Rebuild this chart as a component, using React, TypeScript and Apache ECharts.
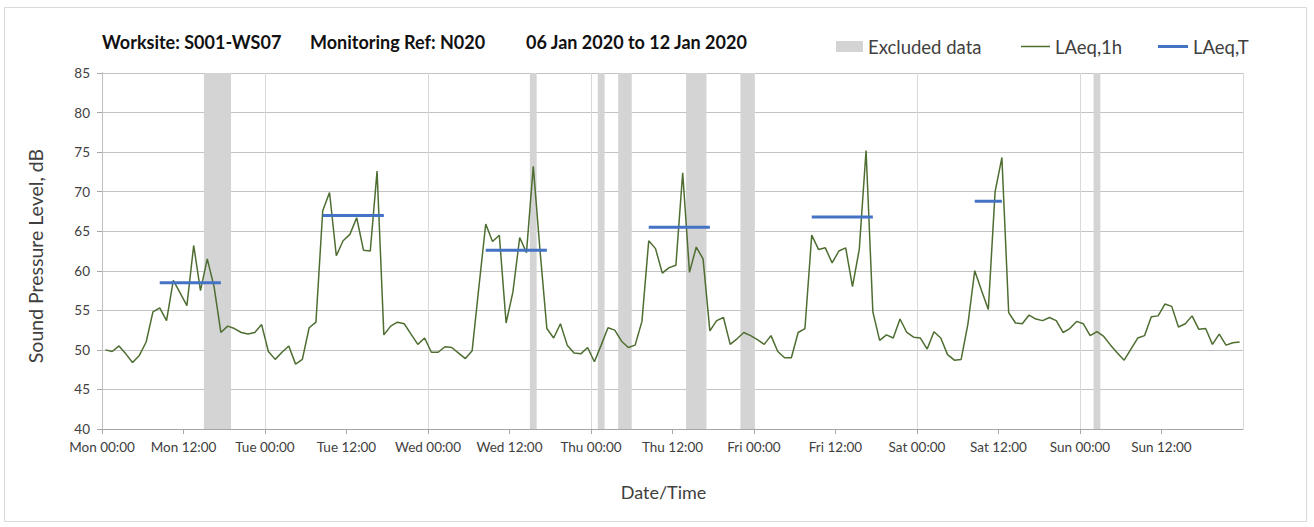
import React, { useEffect, useRef } from "react";
import * as echarts from "echarts";

// ---------- data ----------
const dayNames = ["Mon", "Tue", "Wed", "Thu", "Fri", "Sat", "Sun"];
const tickTimes = ["00:00", "12:00"];

const titleParts = [
  "Worksite: S001-WS07",
  "Monitoring Ref: N020",
  "06 Jan 2020 to 12 Jan 2020",
];

// Hourly LAeq,1h values, Mon 00:00 -> Sun 23:00 (plotted at mid-hour)
const laeq1h = [
  50.0, 49.8, 50.5, 49.5, 48.4, 49.3, 51.0, 54.8, 55.3, 53.7, 58.8, 57.2,
  55.6, 63.2, 57.5, 61.5, 58.0, 52.2, 53.0, 52.7, 52.2, 52.0, 52.2, 53.2,
  49.8, 48.8, 49.7, 50.5, 48.2, 48.8, 52.8, 53.5, 67.6, 69.9, 61.9, 63.8,
  64.6, 66.7, 62.6, 62.5, 72.6, 51.9, 53.0, 53.5, 53.3, 52.0, 50.7, 51.5,
  49.7, 49.7, 50.4, 50.3, 49.6, 48.9, 49.9, 58.0, 65.9, 63.7, 64.5, 53.4,
  57.3, 64.2, 62.3, 73.2, 62.5, 52.7, 51.5, 53.3, 50.6, 49.6, 49.5, 50.3,
  48.5, 50.6, 52.8, 52.5, 51.1, 50.3, 50.6, 53.6, 63.8, 62.8, 59.7, 60.4,
  60.7, 72.4, 59.8, 63.0, 61.5, 52.4, 53.7, 54.1, 50.7, 51.4, 52.2, 51.8,
  51.3, 50.7, 51.8, 49.8, 49.0, 49.0, 52.2, 52.7, 64.5, 62.7, 62.9, 61.0,
  62.5, 62.9, 58.0, 62.7, 75.2, 54.8, 51.2, 51.9, 51.5, 53.9, 52.2, 51.6,
  51.5, 50.1, 52.3, 51.5, 49.4, 48.7, 48.8, 53.3, 60.0, 57.5, 55.1, 70.0,
  74.3, 54.7, 53.4, 53.3, 54.4, 53.9, 53.7, 54.1, 53.7, 52.2, 52.7, 53.6,
  53.3, 51.8, 52.3, 51.7, 50.6, 49.6, 48.7, 50.1, 51.5, 51.8, 54.2, 54.3,
  55.8, 55.5, 52.9, 53.3, 54.3, 52.6, 52.7, 50.7, 52.0, 50.6, 50.9, 51.0,
];

// Excluded data periods (hours from Mon 00:00)
const excludedStart = [15, 63, 73, 76, 86, 94, 146];
const excludedEnd = [19, 64, 74, 78, 89, 96, 147];

// LAeq,T periods (hours from Mon 00:00) and values
const laeqTStart = [8.5, 32.5, 56.5, 80.5, 104.5, 128.5];
const laeqTEnd = [17.5, 41.5, 65.5, 89.5, 113.5, 132.5];
const laeqTValue = [58.5, 67.0, 62.6, 65.5, 66.8, 68.8];

const yMin = 40;
const yMax = 85;
const xMax = 168;

// ---------- styles ----------
const FONT = "Lato";
const GREEN = "#4e6e31";
const BLUE = "#4472c4";
const GREY_BAND = "#d4d4d4";
const TEXT = "#404040";

export default function App() {
  const ref = useRef<HTMLDivElement>(null);

  useEffect(() => {
    if (!ref.current) return;
    const chart = echarts.init(ref.current, undefined, { renderer: "svg" });

    const lineData = laeq1h.map((v, i) => [i + 0.5, v]);
    const bandData = excludedStart.map((s, i) => [s, excludedEnd[i]]);

    const laeqTSeries = laeqTValue.map((v, i) => ({
      name: "LAeq,T",
      type: "line",
      xAxisIndex: 0,
      yAxisIndex: 0,
      symbol: "none",
      z: 4,
      lineStyle: { color: BLUE, width: 3 },
      itemStyle: { color: BLUE },
      data: [
        [laeqTStart[i], v],
        [laeqTEnd[i], v],
      ],
    }));

    const titleLeft = [102, 310, 526];
    const legendText = { fontFamily: FONT, fontSize: 18.5, color: TEXT };

    const option: any = {
      animation: false,
      backgroundColor: "#ffffff",
      textStyle: { fontFamily: FONT },
      title: titleParts.map((t, i) => ({
        text: t,
        left: titleLeft[i],
        top: 33,
        padding: 0,
        textStyle: {
          fontFamily: FONT,
          fontWeight: "bold",
          fontSize: 18,
          color: "#111111",
        },
      })),
      legend: [
        {
          data: [{ name: "Excluded data", icon: "rect", itemStyle: { color: GREY_BAND } }],
          left: 836,
          top: 37,
          padding: 0,
          itemWidth: 27,
          itemHeight: 11,
          textStyle: legendText,
          selectedMode: false,
        },
        {
          data: [{ name: "LAeq,1h", icon: "rect", itemStyle: { color: GREEN } }],
          left: 1021,
          top: 37,
          padding: 0,
          itemWidth: 29,
          itemHeight: 1.5,
          textStyle: legendText,
          selectedMode: false,
        },
        {
          data: [{ name: "LAeq,T", icon: "rect", itemStyle: { color: BLUE } }],
          left: 1158,
          top: 37,
          padding: 0,
          itemWidth: 30,
          itemHeight: 3,
          textStyle: legendText,
          selectedMode: false,
        },
      ],
      grid: { left: 102, top: 73, right: 71, bottom: 98, containLabel: false },
      xAxis: [
        {
          type: "value",
          min: 0,
          max: xMax,
          interval: 12,
          name: "Date/Time",
          nameLocation: "middle",
          nameGap: 54,
          nameTextStyle: {
            fontFamily: FONT,
            fontSize: 18,
            color: TEXT,
            padding: [0, 18, 0, 0],
          },
          axisLine: { show: true, lineStyle: { color: "#a6a6a6", width: 1 } },
          axisTick: { show: true, length: 5, lineStyle: { color: "#a6a6a6" } },
          axisLabel: {
            fontFamily: FONT,
            fontSize: 13.5,
            color: TEXT,
            margin: 11,
            showMaxLabel: false,
            formatter: (v: number) => {
              const d = Math.floor(v / 24);
              const t = Math.round((v % 24) / 12);
              if (d >= dayNames.length) return "";
              return dayNames[d] + " " + tickTimes[t];
            },
          },
          splitLine: { show: false },
        },
        {
          type: "value",
          min: 0,
          max: xMax,
          interval: 24,
          position: "top",
          axisLine: { show: false },
          axisTick: { show: false },
          axisLabel: { show: false },
          splitLine: { show: true, lineStyle: { color: "#d9d9d9", width: 1 } },
        },
      ],
      yAxis: [
        {
          type: "value",
          min: yMin,
          max: yMax,
          interval: 5,
          name: "Sound Pressure Level, dB",
          nameLocation: "middle",
          nameRotate: 90,
          nameGap: 57,
          nameTextStyle: { fontFamily: FONT, fontSize: 19.5, color: TEXT, padding: [0, 10, 0, 0] },
          axisLine: { show: true, lineStyle: { color: "#a6a6a6", width: 1 } },
          axisTick: { show: true, length: 5, lineStyle: { color: "#a6a6a6" } },
          axisLabel: { fontFamily: FONT, fontSize: 13.5, color: TEXT, margin: 12 },
          splitLine: { show: true, lineStyle: { color: "#c3c3c3", width: 1 } },
        },
        {
          type: "value",
          min: yMin,
          max: yMax,
          interval: 5,
          position: "right",
          axisLine: { show: true, lineStyle: { color: "#bfbfbf", width: 1 } },
          axisTick: { show: false },
          axisLabel: { show: false },
          splitLine: { show: false },
        },
      ],
      series: [
        {
          name: "Excluded data",
          type: "custom",
          xAxisIndex: 0,
          yAxisIndex: 0,
          z: 1,
          encode: { x: [0, 1] },
          itemStyle: { color: GREY_BAND },
          data: bandData,
          renderItem: (params: any, api: any) => {
            const p0 = api.coord([api.value(0), yMax]);
            const p1 = api.coord([api.value(1), yMin]);
            return {
              type: "rect",
              shape: { x: p0[0], y: p0[1], width: p1[0] - p0[0], height: p1[1] - p0[1] },
              style: { fill: GREY_BAND },
            };
          },
        },
        {
          name: "LAeq,1h",
          type: "line",
          xAxisIndex: 0,
          yAxisIndex: 0,
          symbol: "none",
          z: 3,
          lineStyle: { color: GREEN, width: 1.5 },
          itemStyle: { color: GREEN },
          data: lineData,
        },
        ...laeqTSeries,
      ],
      graphic: [
        {
          type: "rect",
          shape: { x: 4.5, y: 7.5, width: 1302, height: 514 },
          style: { fill: "none", stroke: "#d9d9d9", lineWidth: 1 },
          silent: true,
          z: -10,
        },
      ],
    };

    chart.setOption(option);
    return () => chart.dispose();
  }, []);

  return (
    <div
      ref={ref}
      style={{ position: "fixed", left: 0, top: 0, width: 1314, height: 527 }}
    />
  );
}
